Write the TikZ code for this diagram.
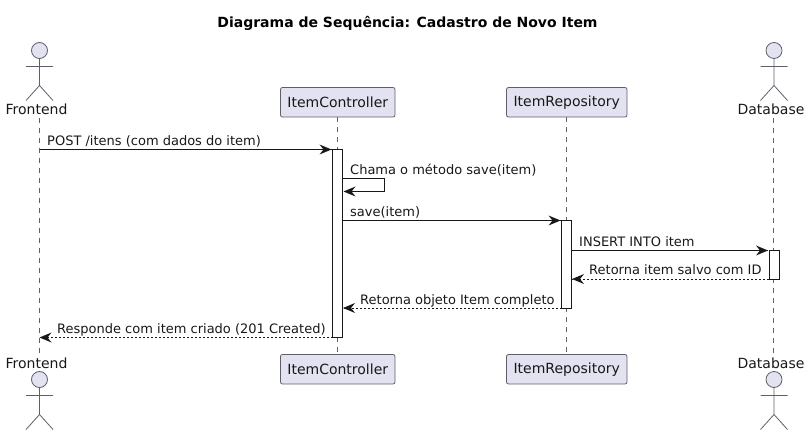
\documentclass[tikz,border=0pt]{standalone}
\usepackage{fontspec}
\setmainfont{DejaVu Sans}
\definecolor{partfill}{HTML}{E2E2F0}
\definecolor{partline}{HTML}{5F5F6B}
\definecolor{ink}{HTML}{181818}
\newcommand{\fs}{\fontsize{13}{15}\selectfont}
\newcommand{\fp}{\fontsize{14}{16}\selectfont}
\tikzset{
  x=1pt,y=-1pt,
  part/.style={draw=partline,fill=partfill,rounded corners=2pt,line width=0.8pt,minimum height=29.5pt,inner sep=0pt,font=\fp,text=ink},
  actorlabel/.style={font=\fp,text=ink,inner sep=0pt,anchor=base},
  bar/.style={draw=ink,fill=white,line width=0.8pt,minimum width=10pt,inner sep=0pt},
  life/.style={draw=partline,line width=0.7pt,dash pattern=on 5pt off 5pt},
  msg/.style={draw=ink,line width=0.9pt},
  ret/.style={draw=ink,line width=0.9pt,dash pattern=on 2pt off 2pt},
  lab/.style={font=\fs,text=ink,inner sep=0pt,anchor=base west},
  stick/.style={draw=partline,line width=0.8pt}
}
% actor: #1 centre x, #2 head centre y
\newcommand{\actorfig}[2]{
  \draw[stick,fill=partfill] (#1,#2) circle (8pt);
  \draw[stick] (#1,#2+8) -- (#1,#2+35) (#1-13.5,#2+16) -- (#1+13.5,#2+16) (#1-13.5,#2+50) -- (#1,#2+35) -- (#1+13.5,#2+50);
}
% arrow head with tip at named coordinate; #2 = +1 pointing right, -1 pointing left
\newcommand{\tip}[2]{
  \fill[ink] (#1) -- ++(-12*#2,-5) -- ++(4*#2,5) -- ++(-4*#2,5) -- cycle;
}
\begin{document}
\begin{tikzpicture}
\useasboundingbox (0,0) rectangle (810,435);
\node[font=\bfseries\fontsize{14}{16}\selectfont,text=black,inner sep=0pt,anchor=base] (title) at (407.5,28) {Diagrama de Sequência: Cadastro de Novo Item};

% lifelines' ends
\node[actorlabel] (feT) at (36.5,115) {Frontend};
\node[actorlabel] (feB) at (36.5,368) {Frontend};
\node[actorlabel] (dbT) at (771,115) {Database};
\node[actorlabel] (dbB) at (771,368) {Database};
\node[part,minimum width=114.5pt] (icT) at (337.75,102.25) {ItemController};
\node[part,minimum width=120.5pt] (irT) at (566.75,102.25) {ItemRepository};
\node[part,minimum width=114.5pt] (icB) at (337.75,369.25) {ItemController};
\node[part,minimum width=120.5pt] (irB) at (566.75,369.25) {ItemRepository};

\coordinate (feA) at (39.5,118);
\coordinate (feZ) at (39.5,354);
\coordinate (dbA) at (773.5,118);
\coordinate (dbZ) at (773.5,354);
\coordinate (icA) at (337.5,117);
\coordinate (icZ) at (337.5,354.5);
\coordinate (irA) at (566.5,117);
\coordinate (irZ) at (566.5,354.5);
\draw[life] (feA) -- (feZ);
\draw[life] (dbA) -- (dbZ);
\draw[life] (icA) -- (icZ);
\draw[life] (irA) -- (irZ);

\actorfig{39.5}{50.5}
\actorfig{39.5}{379.5}
\actorfig{774}{50.5}
\actorfig{774}{379.5}

% activation bars
\node[bar,minimum height=188pt] (icBar) at (337.5,243.5) {};
\node[bar,minimum height=87.5pt] (irBar) at (566.5,264.25) {};
\node[bar,minimum height=28.5pt] (dbBar) at (774,264.75) {};

% messages
\coordinate (m1s) at (39.5,149.5);
\coordinate (m1e) at (331.5,149.5);
\draw[msg] (m1s) -- (m1e); \tip{m1e}{1}
\node[lab] (l1) at (47,145.5) {POST /itens (com dados do item)};

\coordinate (m2s) at (342.5,178.5);
\coordinate (m2c) at (384.5,178.5);
\coordinate (m2d) at (384.5,191.5);
\coordinate (m2e) at (343.5,191.5);
\draw[msg] (m2s) -- (m2c) -- (m2d) -- (m2e); \tip{m2e}{-1}
\node[lab] (l2) at (350,174.5) {Chama o método save(item)};

\coordinate (m3s) at (342.5,220.5);
\coordinate (m3e) at (560.5,220.5);
\draw[msg] (m3s) -- (m3e); \tip{m3e}{1}
\node[lab] (l3) at (350,216.5) {save(item)};

\coordinate (m4s) at (571.5,250.5);
\coordinate (m4e) at (768,250.5);
\draw[msg] (m4s) -- (m4e); \tip{m4e}{1}
\node[lab] (l4) at (579,246.5) {INSERT INTO item};

\coordinate (m5s) at (769,279);
\coordinate (m5e) at (572,279);
\draw[ret] (m5s) -- (m5e); \tip{m5e}{-1}
\node[lab] (l5) at (589,275) {Retorna item salvo com ID};

\coordinate (m6s) at (561.5,308);
\coordinate (m6e) at (343,308);
\draw[ret] (m6s) -- (m6e); \tip{m6e}{-1}
\node[lab] (l6) at (360,304) {Retorna objeto Item completo};

\coordinate (m7s) at (332.5,337.5);
\coordinate (m7e) at (39.5,337.5);
\draw[ret] (m7s) -- (m7e); \tip{m7e}{-1}
\node[lab] (l7) at (57,333.5) {Responde com item criado (201 Created)};
\end{tikzpicture}
\end{document}
